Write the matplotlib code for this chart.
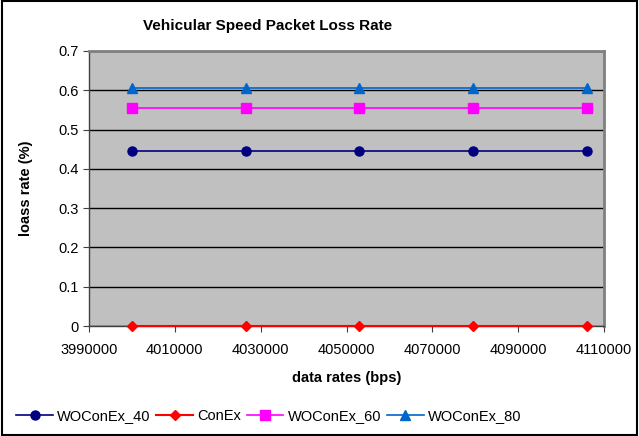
import matplotlib.pyplot as plt
import matplotlib.patches as mpatches
import numpy as np

plt.rcParams['font.family'] = ['Liberation Sans', 'DejaVu Sans']

rates = [4000000, 4026500, 4053000, 4079500, 4106000]
woconex40 = [0.445, 0.445, 0.445, 0.445, 0.445]
conex = [0.0, 0.0, 0.0, 0.0, 0.0]
woconex60 = [0.555, 0.555, 0.555, 0.555, 0.555]
woconex80 = [0.607, 0.607, 0.607, 0.607, 0.607]

xticks = [3990000, 4010000, 4030000, 4050000, 4070000, 4090000, 4110000]
yticks = [0, 0.1, 0.2, 0.3, 0.4, 0.5, 0.6, 0.7]

fig = plt.figure(figsize=(6.39, 4.36), dpi=100)
ax = fig.add_axes([89 / 639, 1 - 326 / 436, (604 - 89) / 639, (326 - 51) / 436])
ax.set_facecolor('#C0C0C0')

ax.plot(rates, woconex40, color='#000080', marker='o', markersize=6.5, lw=1.2, label='WOConEx_40', zorder=4, clip_on=False)
ax.plot(rates, conex, color='#FF0000', marker='D', markersize=5.5, lw=1.5, label='ConEx', zorder=4, clip_on=False)
ax.plot(rates, woconex60, color='#FF00FF', marker='s', markersize=6.5, lw=1.2, label='WOConEx_60', zorder=4, clip_on=False)
ax.plot(rates, woconex80, color='#0066CC', marker='^', markersize=7.5, lw=1.2, label='WOConEx_80', zorder=4, clip_on=False)

ax.set_xlim(3990000, 4110000)
ax.set_ylim(0, 0.7)
ax.set_xticks(xticks)
ax.set_xticklabels([str(v) for v in xticks])
ax.set_yticks(yticks)
ax.set_yticklabels(['0'] + [f'{v:.1f}' for v in yticks[1:]])
ax.yaxis.grid(True, color='black', lw=1)
ax.set_axisbelow(True)
ax.tick_params(labelsize=10.5, length=4, color='#404040', direction='out')
ax.tick_params(axis='x', pad=8)

for s in ['top', 'right']:
    ax.spines[s].set_color('#808080')
    ax.spines[s].set_linewidth(2)
for s in ['left', 'bottom']:
    ax.spines[s].set_color('#404040')
    ax.spines[s].set_linewidth(1)

fig.text(268 / 639, 1 - 26 / 436, 'Vehicular Speed Packet Loss Rate',
         ha='center', va='center', fontsize=11, fontweight='bold')
ax.set_xlabel('data rates (bps)', fontsize=10.5, fontweight='bold', labelpad=10)
ax.set_ylabel('loass rate (%)', fontsize=10.5, fontweight='bold', labelpad=18)

fig.legend(loc='lower left', bbox_to_anchor=(0.005, 0.0), ncol=4, frameon=False,
           fontsize=10.5, handlelength=2.5, columnspacing=0.4, handletextpad=0.3)

fig.patches.append(mpatches.Rectangle((0.003, 0.003), 0.994, 0.994, transform=fig.transFigure,
                                      fill=False, edgecolor='black', lw=1.5))

fig.savefig('out.png', dpi=100)
